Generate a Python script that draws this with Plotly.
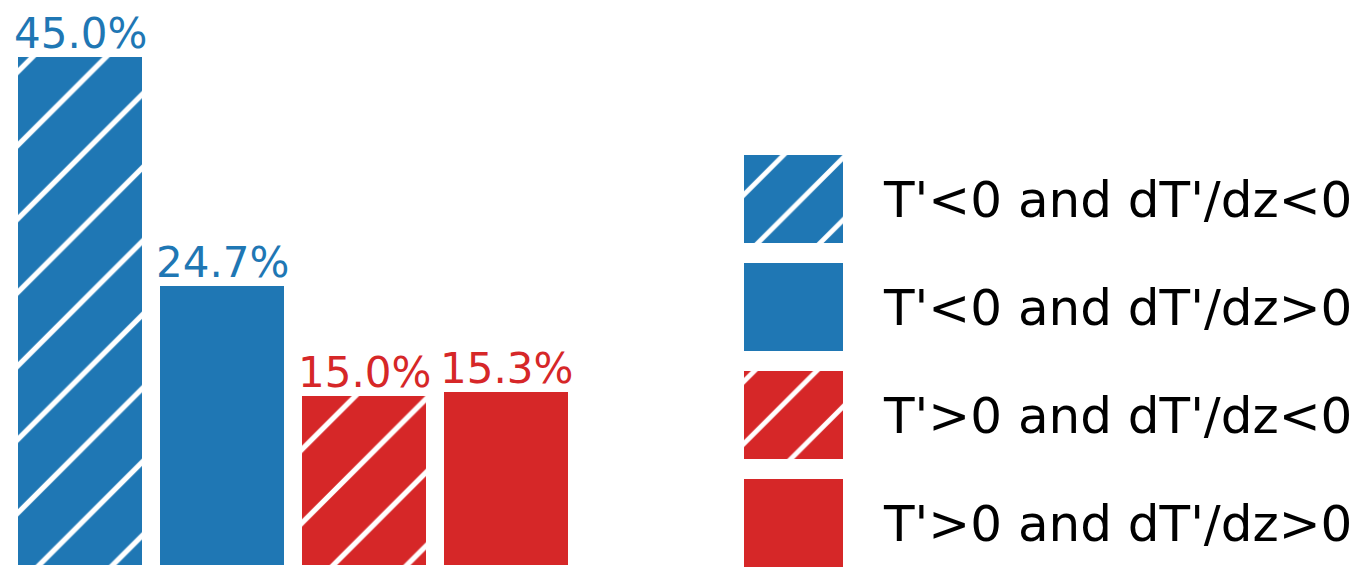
import plotly.graph_objects as go

categories = ["T'<0 and dT'/dz<0", "T'<0 and dT'/dz>0", "T'>0 and dT'/dz<0", "T'>0 and dT'/dz>0"]
values = [45.0, 24.7, 15.0, 15.3]
colors = ["#1f77b4", "#1f77b4", "#d62728", "#d62728"]
hatches = ["/", "", "/", ""]

W, H = 1368, 585
FONT = "DejaVu Sans"
OFF = 8  # page body margin

fig = go.Figure()

# main bars
fig.add_trace(go.Bar(
    x=list(range(len(values))), y=values,
    width=124 / 142,
    marker=dict(color=colors, line=dict(width=0),
                pattern=dict(shape=hatches, fgcolor="white", fgopacity=1, size=52, solidity=0.1)),
    showlegend=False, xaxis="x", yaxis="y", hoverinfo="skip",
))

for i, v in enumerate(values):
    fig.add_annotation(x=i, y=v, xref="x", yref="y", text=f"{v:.1f}%", showarrow=False,
                       xanchor="center", yanchor="bottom", yshift=-2, borderpad=0,
                       font=dict(family=FONT, size=42, color=colors[i]))

# legend boxes (second axes)
n = len(categories)
ypos = [n - 1 - i for i in range(n)]
fig.add_trace(go.Bar(
    x=[1] * n, y=ypos, orientation="h", width=88 / 108,
    marker=dict(color=colors, line=dict(width=0),
                pattern=dict(shape=hatches, fgcolor="white", fgopacity=1, size=44, solidity=0.11)),
    showlegend=False, xaxis="x2", yaxis="y2", hoverinfo="skip",
))

x0 = 80 - OFF
base = 565 - OFF
ppu = 508 / 45
lg = 523 - OFF
fig.update_layout(
    width=W, height=H,
    margin=dict(l=0, r=0, t=0, b=0),
    paper_bgcolor="white", plot_bgcolor="rgba(0,0,0,0)",
    xaxis=dict(domain=[0, 1], range=[-x0 / 142, (W - x0) / 142], visible=False, fixedrange=True),
    yaxis=dict(domain=[0, 1], range=[-(H - base) / ppu, base / ppu], visible=False),
    xaxis2=dict(domain=[(744 - OFF) / W, (843 - OFF) / W], range=[0, 1], visible=False, anchor="y2"),
    yaxis2=dict(domain=[0, 1], range=[-(H - lg) / 108, lg / 108], anchor="x2", side="right",
                tickvals=ypos, ticktext=categories, showgrid=False, zeroline=False, showline=False,
                ticks="", ticklabelstandoff=40,
                tickfont=dict(family=FONT, size=50, color="black")),
    bargap=0,
)

fig.write_html("out.html")
